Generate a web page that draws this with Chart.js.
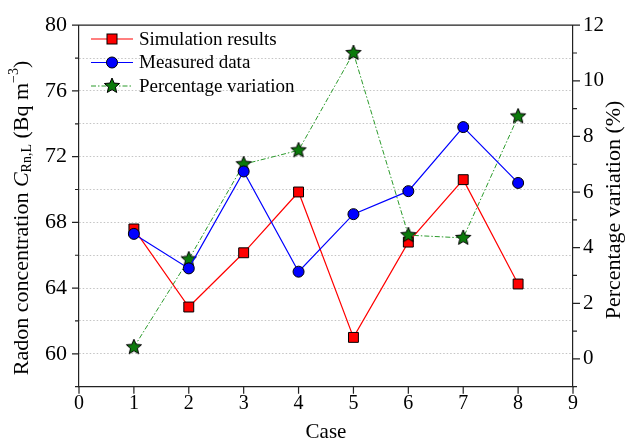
<!DOCTYPE html>
<html lang="en">
<head>
<meta charset="UTF-8">
<title>Radon concentration by case</title>
<script src="https://cdn.jsdelivr.net/npm/chart.js"></script>
<style>
  body { margin: 0; background: #fff; font-family: "Liberation Serif", serif; }
  canvas { display: block; }
</style>
</head>
<body>
<canvas id="chart" width="629" height="440"></canvas>
<script>
// data
const cases = [1, 2, 3, 4, 5, 6, 7, 8];
const simulation = [67.6, 62.85, 66.15, 69.85, 61.0, 66.8, 70.6, 64.25];
const measured = [67.3, 65.2, 71.1, 65.0, 68.5, 69.9, 73.8, 70.4];
const variation = [0.42, 3.58, 7.0, 7.5, 11.0, 4.45, 4.35, 8.72];
const seriesNames = ['Simulation results', 'Measured data', 'Percentage variation'];
const leftTicks = [60, 64, 68, 72, 76, 80];
const rightTicks = [0, 2, 4, 6, 8, 10, 12];

const SERIF = "'Liberation Serif', 'Times New Roman', serif";
const GREEN_LINE = '#2b9a2b';
const GREEN_FILL = '#0b7a0b';

// filled star marker (Chart.js 'star' is only an asterisk)
function makeStar(r) {
  const c = document.createElement('canvas');
  const s = Math.ceil(r * 2 + 4);
  c.width = c.height = s;
  const g = c.getContext('2d');
  g.beginPath();
  for (let i = 0; i < 10; i++) {
    const rad = i % 2 ? r * 0.45 : r;
    const a = -Math.PI / 2 + i * Math.PI / 5;
    g.lineTo(s / 2 + rad * Math.cos(a), s / 2 + rad * Math.sin(a));
  }
  g.closePath();
  g.fillStyle = GREEN_FILL;
  g.fill();
  g.lineWidth = 1;
  g.strokeStyle = '#000';
  g.stroke();
  return c;
}
const star = makeStar(8);

const toXY = vals => cases.map((c, i) => ({ x: c, y: vals[i] }));

// titles, tick marks, top frame and the legend
const extras = {
  id: 'extras',
  afterDraw(chart) {
    const ctx = chart.ctx;
    const area = chart.chartArea;
    const yl = chart.scales.y, yr = chart.scales.y2, xs = chart.scales.x;
    ctx.save();
    ctx.strokeStyle = '#222';
    ctx.lineWidth = 1.2;
    ctx.beginPath();
    ctx.moveTo(area.left, area.top);
    ctx.lineTo(area.right, area.top);
    for (let v = 58; v <= 80; v += 2) {
      const p = yl.getPixelForValue(v);
      const len = (v - 60) % 4 === 0 ? 7 : 4;
      ctx.moveTo(area.left, p);
      ctx.lineTo(area.left - len, p);
    }
    for (let v = -1; v <= 12; v++) {
      const p = yr.getPixelForValue(v);
      const len = v % 2 === 0 ? 7 : 4;
      ctx.moveTo(area.right, p);
      ctx.lineTo(area.right + len, p);
    }
    for (let v = 0; v <= 9; v++) {
      const p = xs.getPixelForValue(v);
      ctx.moveTo(p, area.bottom);
      ctx.lineTo(p, area.bottom + 7);
    }
    ctx.stroke();

    ctx.fillStyle = '#000';
    ctx.textBaseline = 'middle';
    ctx.textAlign = 'center';
    ctx.font = '21px ' + SERIF;
    ctx.fillText('Case', (area.left + area.right) / 2, 432);

    // left title with italic C, subscript and superscript
    const midY = (area.top + area.bottom) / 2;
    const parts = [
      { t: 'Radon concentration ', f: '22px ' + SERIF, dy: 0 },
      { t: 'C', f: 'italic 22px ' + SERIF, dy: 0 },
      { t: 'Rn,L', f: '14px ' + SERIF, dy: 5 },
      { t: ' (Bq m', f: '22px ' + SERIF, dy: 0 },
      { t: '\u22123', f: '14px ' + SERIF, dy: -8 },
      { t: ')', f: '22px ' + SERIF, dy: 0 }
    ];
    let total = 0;
    parts.forEach(p => { ctx.font = p.f; p.w = ctx.measureText(p.t).width; total += p.w; });
    ctx.save();
    ctx.translate(22, midY + 12);
    ctx.rotate(-Math.PI / 2);
    ctx.textAlign = 'left';
    let x = -total / 2;
    parts.forEach(p => { ctx.font = p.f; ctx.fillText(p.t, x, p.dy); x += p.w; });
    ctx.restore();

    ctx.save();
    ctx.translate(614, midY + 4);
    ctx.rotate(-Math.PI / 2);
    ctx.font = '22px ' + SERIF;
    ctx.fillText('Percentage variation (%)', 0, 0);
    ctx.restore();

    // legend
    const rows = [39, 62.5, 86];
    const x0 = area.left + 12, x1 = area.left + 54, xm = area.left + 33;
    ctx.font = '19px ' + SERIF;
    ctx.textAlign = 'left';
    rows.forEach((ry, i) => {
      const ds = chart.data.datasets[i];
      ctx.save();
      ctx.strokeStyle = ds.borderColor;
      ctx.lineWidth = ds.borderWidth;
      ctx.setLineDash(ds.borderDash || []);
      ctx.beginPath();
      ctx.moveTo(x0, ry);
      ctx.lineTo(x1, ry);
      ctx.stroke();
      ctx.restore();
      ctx.save();
      ctx.lineWidth = 1;
      ctx.strokeStyle = '#000';
      if (i === 0) {
        ctx.fillStyle = ds.pointBackgroundColor;
        ctx.fillRect(xm - 5, ry - 5, 10, 10);
        ctx.strokeRect(xm - 5, ry - 5, 10, 10);
      } else if (i === 1) {
        ctx.fillStyle = ds.pointBackgroundColor;
        ctx.beginPath();
        ctx.arc(xm, ry, 5.5, 0, Math.PI * 2);
        ctx.fill();
        ctx.stroke();
      } else {
        ctx.drawImage(star, xm - star.width / 2, ry - star.height / 2);
      }
      ctx.restore();
      ctx.fillStyle = '#000';
      ctx.fillText(seriesNames[i], area.left + 60, ry + 1);
    });
    ctx.restore();
  }
};

function draw() {
  Chart.defaults.font.family = SERIF;
  new Chart(document.getElementById('chart'), {
    type: 'scatter',
    data: {
      datasets: [{
        label: seriesNames[0],
        data: toXY(simulation),
        yAxisID: 'y',
        showLine: true,
        borderColor: '#ff0000',
        borderWidth: 1.2,
        pointStyle: 'rect',
        pointRadius: 7,
        pointBackgroundColor: '#ff0000',
        pointBorderColor: '#000',
        pointBorderWidth: 1,
        order: 2
      }, {
        label: seriesNames[1],
        data: toXY(measured),
        yAxisID: 'y',
        showLine: true,
        borderColor: '#0000ff',
        borderWidth: 1.2,
        pointStyle: 'circle',
        pointRadius: 5.5,
        pointBackgroundColor: '#0000ff',
        pointBorderColor: '#000',
        pointBorderWidth: 1,
        order: 0
      }, {
        label: seriesNames[2],
        data: toXY(variation),
        yAxisID: 'y2',
        showLine: true,
        borderColor: GREEN_LINE,
        borderWidth: 1,
        borderDash: [5, 2, 1.5, 2],
        pointStyle: star,
        pointRadius: 8,
        order: 1
      }]
    },
    options: {
      responsive: false,
      animation: false,
      events: [],
      layout: { padding: { top: 20, left: 0, right: 0, bottom: 0 } },
      plugins: { legend: { display: false }, tooltip: { enabled: false } },
      scales: {
        x: {
          type: 'linear',
          min: 0, max: 9,
          afterFit: s => { s.height = 53.3; },
          ticks: { stepSize: 1, autoSkip: false, color: '#000', padding: 5, font: { family: SERIF, size: 20 } },
          grid: { display: false, drawTicks: false },
          border: { color: '#222', width: 1.2 }
        },
        y: {
          position: 'left',
          min: 58, max: 80,
          afterFit: s => { s.width = 79; },
          ticks: {
            stepSize: 2, autoSkip: false, color: '#000', padding: 12,
            font: { family: SERIF, size: 22 },
            callback: v => leftTicks.includes(v) ? v : ''
          },
          grid: {
            drawTicks: false,
            color: c => (c.tick && c.tick.value > 58 && c.tick.value < 80) ? '#c4c4c4' : 'rgba(0,0,0,0)',
            lineWidth: 1
          },
          border: { color: '#222', width: 1.2, dash: [1.5, 2] }
        },
        y2: {
          position: 'right',
          min: -1, max: 12,
          afterFit: s => { s.width = 56; },
          ticks: {
            stepSize: 1, autoSkip: false, color: '#000', padding: 10,
            font: { family: SERIF, size: 21 },
            callback: v => rightTicks.includes(v) ? v : ''
          },
          grid: { drawOnChartArea: false, drawTicks: false },
          border: { color: '#222', width: 1.2 }
        }
      }
    },
    plugins: [extras]
  });
}

if (document.fonts && document.fonts.load) {
  Promise.all([
    document.fonts.load("20px 'Liberation Serif'"),
    document.fonts.load("italic 20px 'Liberation Serif'")
  ]).then(draw, draw);
} else {
  draw();
}
</script>
</body>
</html>
